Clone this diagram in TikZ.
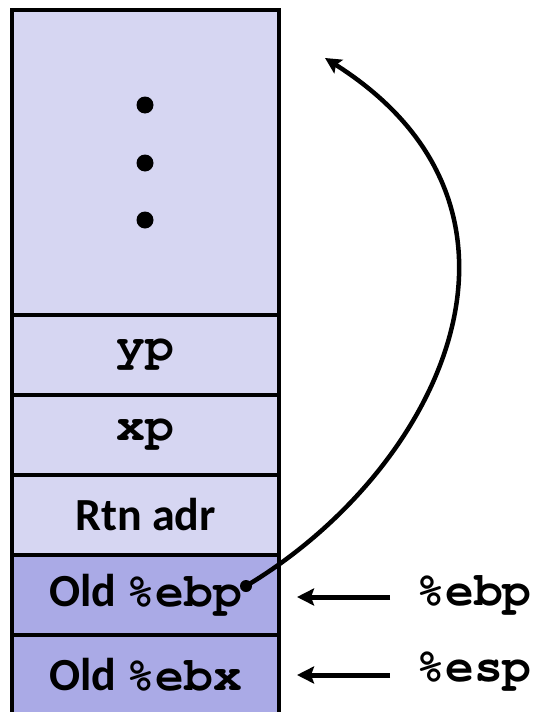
\documentclass[tikz,border=0pt]{standalone}
\usepackage{fontspec}
\setmainfont{Carlito}
\newfontfamily\cour{TeX Gyre Cursor}
\newcommand\crs{\fontsize{48}{50}\selectfont\cour}
\usetikzlibrary{arrows.meta}
\definecolor{lightcell}{RGB}{214,214,242}
\definecolor{darkcell}{RGB}{170,170,230}
\begin{document}
\begin{tikzpicture}[x=1pt,y=-1pt,
  cell/.style={draw=black, line width=4pt, minimum width=267pt, minimum height=80pt,
    inner sep=0pt, font=\fontsize{46}{50}\selectfont\bfseries},
  lbl/.style={font=\bfseries\crs, inner sep=2pt},
  ptr/.style={line width=5pt, -{Stealth[length=17pt,width=17pt,inset=3pt]}, shorten >=16pt},
  vdot/.style={circle, fill=black, inner sep=0pt, minimum size=17pt}]
\useasboundingbox (0,0) rectangle (535,712);
\node[cell, fill=lightcell, minimum height=305pt] (top) at (145.5,162.5) {};
\node[cell, fill=lightcell] (yp) at (145.5,355) {\crs yp};
\node[cell, fill=lightcell] (xp) at (145.5,435) {\crs xp};
\node[cell, fill=lightcell] (rtn) at (145.5,515) {Rtn adr};
\node[cell, fill=darkcell] (oebp) at (145.5,595) {Old {\crs\%ebp}};
\node[cell, fill=darkcell, minimum height=100pt] (oebx) at (145.5,685) {};
\node[font=\fontsize{46}{50}\selectfont\bfseries] (oebxt) at (145.5,675) {Old {\crs\%ebx}};
\node[vdot] (d1) at (145,105) {};
\node[vdot] (d2) at (145,163) {};
\node[vdot] (d3) at (145,220) {};
\node[lbl] (ebp) at (474,595) {\%ebp};
\node[lbl] (esp) at (474,672) {\%esp};
\draw[ptr, shorten <=24pt] (ebp.west |- 0,597) -- (oebp.east |- 0,597);
\draw[ptr, shorten <=24pt] (esp.west |- 0,675) -- (oebp.east |- 0,675);
\node[circle, fill=black, inner sep=0pt, minimum size=12pt] (src) at (246,586) {};
\coordinate (tip) at (325,58);
\draw[line width=4.5pt, -{Stealth[length=16pt,width=16pt,inset=3pt]}] (src.center) .. controls (440,470) and (565,210) .. (tip);
\end{tikzpicture}
\end{document}
